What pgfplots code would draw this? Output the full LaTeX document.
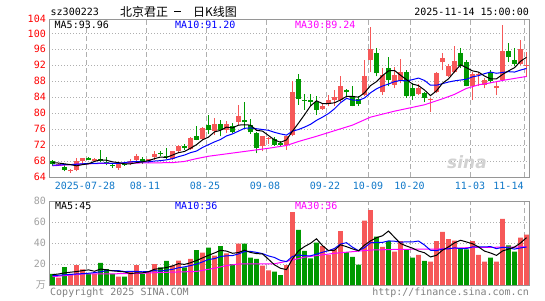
\documentclass[border=0pt]{standalone}
\usepackage{fontspec}
\setmainfont{DejaVu Sans Mono}
\newfontfamily\cjk{Noto Sans CJK SC}
\newfontfamily\sans{DejaVu Sans}
\usepackage{pgfplots}
\usepackage{pgfplotstable}
\pgfplotsset{compat=1.18}
\definecolor{upc}{RGB}{246,88,88}
\definecolor{dnc}{RGB}{0,153,0}
\definecolor{datec}{RGB}{16,120,200}
\definecolor{gridc}{RGB}{175,175,175}
\definecolor{framec}{RGB}{150,150,150}
\definecolor{volc}{RGB}{160,160,160}
\definecolor{maz}{RGB}{255,0,255}
\definecolor{mab}{RGB}{0,0,255}

\pgfplotstableread{
x o h l c v
1 67.0 67.5 66.8 67.3 7
3 65.4 66.0 65.1 65.8 10.5
4 65.7 68.7 65.4 67.9 19
5 67.9 68.8 67.3 68.7 14.9
7 68.1 68.7 67.9 68.6 10.5
11 66.3 67.6 65.8 67.3 7.9
13 67.5 68.4 66.9 67.9 12.7
14 68.3 69.8 68.0 69.2 19
16 67.9 68.6 67.5 68.5 12.7
17 69.0 70.4 68.3 69.8 20
20 68.5 70.6 68.3 70.4 18.4
21 70.4 72.0 70.2 71.8 23.2
23 71.0 74.0 70.8 73.8 24.8
25 73.5 76.5 73.2 76.2 30.8
27 75.5 78.7 74.6 77.3 28
29 75.8 78.0 75.0 77.3 30.2
31 77.9 82.1 77.0 79.2 39.3
35 71.7 74.3 70.5 74.2 18.4
36 73.4 74.0 72.3 73.7 13.9
39 72.1 74.4 70.8 74.3 19
40 74.6 88.0 74.2 85.2 69.5
45 81.0 82.5 80.8 81.8 37.1
46 82.5 84.6 81.7 83.3 28.6
47 83.2 85.8 81.8 84.0 34
48 83.3 89.2 82.9 86.8 51.4
52 84.6 93.2 84.2 89.2 61.3
53 93.2 101.5 90.4 96.1 71.4
55 85.2 91.2 84.6 89.6 36.2
57 87.1 91.6 86.3 89.6 31.7
58 88.0 93.5 87.5 90.3 41.9
61 84.8 87.3 84.5 86.2 28.6
63 83.3 83.7 80.4 83.6 22.2
64 85.2 90.4 85.0 90.0 41.9
65 92.7 95.0 90.8 93.8 50.5
66 89.3 92.2 89.0 91.7 43.8
67 90.2 96.8 90.0 93.1 42.2
70 86.8 90.4 83.3 89.8 41.9
71 89.6 90.2 86.8 89.8 28.6
72 87.1 88.7 86.2 88.3 22.2
74 86.2 87.9 84.5 86.8 22.2
75 88.3 102.1 88.1 95.7 63
78 92.3 98.3 92.1 96.0 45.1
79 91.8 95.3 89.1 92.1 48
}\tabUp

\pgfplotstableread{
x o h l c v
0 67.9 68.3 66.7 67.2 10.5
2 66.6 67.0 65.4 65.7 17.1
6 68.7 69.0 68.2 68.3 10.5
8 68.5 70.7 67.7 67.9 21
9 67.8 69.0 66.9 67.5 15.2
10 67.1 67.5 66.3 66.7 10.5
12 67.3 67.6 66.8 67.0 7.9
15 68.6 68.9 67.3 67.7 10.5
18 70.0 70.4 69.2 69.7 16.8
19 69.3 71.2 68.5 68.9 22.9
22 71.8 72.3 70.8 71.2 16.8
24 74.2 76.8 73.2 73.3 33.3
26 77.1 79.6 74.8 75.7 35.6
28 77.3 78.3 74.2 75.8 37.1
30 76.8 77.6 75.0 75.4 20
32 78.2 82.8 76.2 77.7 39.3
33 77.1 78.6 74.8 75.2 26
34 75.0 75.4 70.0 71.2 24.8
37 73.5 74.0 71.8 72.1 12.7
38 72.6 73.0 71.6 72.1 9.5
41 88.5 89.7 82.1 83.6 52.4
42 83.2 84.8 80.8 83.0 32.4
43 83.3 84.8 81.7 82.9 25.4
44 82.7 84.2 79.6 80.8 40.3
49 85.7 86.0 84.2 85.2 31.4
50 84.0 86.7 81.7 81.8 26.7
51 83.6 84.3 81.8 82.3 19.4
54 95.0 96.3 89.2 90.0 46
56 91.4 94.2 86.7 88.2 41.9
59 90.2 90.8 83.9 84.3 34
60 86.2 87.5 83.3 84.3 26
62 85.0 85.4 82.7 83.8 22.9
68 95.2 96.3 91.2 91.8 34.6
69 92.9 93.3 86.7 86.8 34
73 90.2 90.8 87.5 88.1 26
76 95.6 97.5 92.9 94.0 37.8
77 93.3 96.3 91.7 92.3 31.7
}\tabDn

\pgfplotsset{
  kpanel/.style={
    scale only axis, width=480pt,
    xmin=-0.583, xmax=79.417,
    axis line style={framec, line width=0.8pt},
    major tick length=0pt,
    xtick={5.58,15.58,25.58,35.58,45.58,52.58,59.58,69.58,78.58},
    xticklabels={,,,,,,,,},
    xmajorgrids, ymajorgrids,
    x grid style={gridc, line width=0.8pt, dash pattern=on 5pt off 3pt},
    y grid style={gridc, line width=0.8pt, dash pattern=on 1pt off 2pt},
    /pgf/number format/assume math mode=true,
    tick label style={font=\fontsize{10}{10}\selectfont},
    yticklabel style={anchor=east, inner sep=0pt, xshift=-3pt},
    ytick pos=left, xtick pos=bottom,
    clip=true,
  },
  wick/.style={forget plot, only marks, mark=*, mark size=0pt,
    mark options={draw=none, fill=none},
    error bars/.cd, y dir=plus, y explicit, error mark=none,
    error bar style={draw=#1, line width=1pt}},
  body/.style={forget plot, only marks, mark=*, mark size=0pt,
    mark options={draw=none, fill=none},
    error bars/.cd, y dir=plus, y explicit, error mark=none,
    error bar style={draw=#1, line width=4.6pt}},
}

\begin{document}
\begin{tikzpicture}
\path[use as bounding box] (0pt,0pt) rectangle (545pt,300pt);

% ---------------- price panel ----------------
\begin{axis}[kpanel, at={(49pt,123pt)}, anchor=south west, height=158pt,
  ymin=64, ymax=103.6,
  ytick={64,68,72,76,80,84,88,92,96,100,103.6},
  yticklabels={64,68,72,76,80,84,88,92,96,100,104},
  yticklabel style={red}]
\addplot[wick=upc] table[x=x, y=l, y error plus expr=\thisrow{h}-\thisrow{l}] {\tabUp};
\addplot[wick=dnc] table[x=x, y=l, y error plus expr=\thisrow{h}-\thisrow{l}] {\tabDn};
\addplot[body=upc] table[x=x, y=o, y error plus expr=\thisrow{c}-\thisrow{o}] {\tabUp};
\addplot[body=dnc] table[x=x, y=c, y error plus expr=\thisrow{o}-\thisrow{c}] {\tabDn};
% MA30
\addplot[maz, line width=1pt] coordinates {(0,66.8)(4,67.2)(8,67.4)(14,67.5)(20,67.6)(22,67.9)(24,68.6)(26,69.2)(30,70.0)(36,71.2)(39,71.9)(41,72.9)(44,74.2)(47,75.6)(50,77.0)(53,79.0)(57,80.5)(62,82.1)(65,83.6)(67,84.7)(69,86.2)(71,87.1)(73,87.6)(75,88.2)(79,89.2)};
% MA10
\addplot[mab, line width=1pt] coordinates {(0,67.0)(1,67.0)(2,67.1)(3,67.1)(4,67.2)(5,67.3)(6,67.4)(7,67.4)(8,67.5)(9,67.5)(10,67.4)(11,67.4)(12,67.6)(13,67.8)(14,67.9)(15,67.8)(16,67.8)(17,68.0)(18,68.1)(19,68.3)(20,68.6)(21,69.1)(22,69.5)(23,70.1)(24,70.5)(25,71.4)(26,72.1)(27,72.8)(28,73.4)(29,74.3)(30,74.8)(31,75.5)(32,76.2)(33,76.3)(34,76.1)(35,75.9)(36,75.7)(37,75.2)(38,74.8)(39,74.5)(40,75.5)(41,75.9)(42,76.5)(43,77.2)(44,78.2)(45,79.0)(46,79.9)(47,81.1)(48,82.6)(49,83.7)(50,83.3)(51,83.2)(52,83.8)(53,85.1)(54,86.1)(55,86.8)(56,87.3)(57,87.9)(58,88.2)(59,88.1)(60,88.4)(61,88.8)(62,88.2)(63,87.0)(64,87.0)(65,87.4)(66,87.8)(67,88.1)(68,88.3)(69,88.5)(70,89.1)(71,89.4)(72,89.9)(73,90.3)(74,90.0)(75,90.2)(76,90.4)(77,90.3)(78,90.8)(79,91.2)};
% MA5
\addplot[black, line width=1pt] coordinates {(0,67.6)(1,67.5)(2,67.3)(3,67.1)(4,66.8)(5,67.1)(6,67.3)(7,67.9)(8,68.3)(9,68.2)(10,67.8)(11,67.6)(12,67.3)(13,67.3)(14,67.6)(15,67.8)(16,68.1)(17,68.6)(18,69.0)(19,68.9)(20,69.5)(21,70.1)(22,70.4)(23,71.2)(24,72.1)(25,73.3)(26,74.0)(27,75.3)(28,75.7)(29,76.5)(30,76.3)(31,77.0)(32,77.1)(33,77.0)(34,75.7)(35,75.5)(36,74.4)(37,73.3)(38,72.7)(39,73.3)(40,75.5)(41,77.5)(42,79.6)(43,81.8)(44,83.1)(45,82.4)(46,82.4)(47,82.6)(48,83.3)(49,84.2)(50,84.2)(51,84.0)(52,85.1)(53,86.9)(54,87.9)(55,89.4)(56,90.6)(57,90.7)(58,89.5)(59,88.4)(60,87.3)(61,86.9)(62,85.8)(63,84.4)(64,85.6)(65,87.5)(66,88.6)(67,90.4)(68,92.1)(69,91.4)(70,90.6)(71,90.3)(72,89.3)(73,88.6)(74,88.6)(75,89.7)(76,90.6)(77,91.4)(78,93.0)(79,94.0)};
\end{axis}

% ---------------- volume panel ----------------
\begin{axis}[kpanel, at={(49pt,15pt)}, anchor=south west, height=84pt,
  ymin=0, ymax=80,
  ytick={0,20,40,60,80},
  yticklabels={{\cjk 万},20,40,60,80},
  yticklabel style={volc}]
\addplot[ybar, bar width=4.6pt, bar shift=0pt, fill=upc, draw=none, forget plot] table[x=x, y=v] {\tabUp};
\addplot[ybar, bar width=4.6pt, bar shift=0pt, fill=dnc, draw=none, forget plot] table[x=x, y=v] {\tabDn};
% MA30
\addplot[maz, line width=1pt] coordinates {(0,7.9)(5,10.5)(13,10.8)(19,12.1)(24,12.9)(27,16.0)(29,18.5)(31,20.0)(37,20.2)(39,22.5)(42,26.5)(47,30.2)(53,33.3)(58,34.0)(64,34.2)(70,35.8)(75,36.0)(79,36.3)};
% MA10
\addplot[mab, line width=1pt] coordinates {(0,8.9)(1,9.3)(2,9.7)(3,10.1)(4,10.5)(5,10.8)(6,11.2)(7,11.8)(8,12.6)(9,13.6)(10,13.6)(11,13.7)(12,12.8)(13,13.0)(14,13.0)(15,12.6)(16,12.8)(17,13.7)(18,13.3)(19,14.1)(20,14.9)(21,16.4)(22,17.3)(23,18.5)(24,19.9)(25,22.0)(26,24.3)(27,25.1)(28,27.1)(29,27.8)(30,28.0)(31,29.6)(32,31.8)(33,32.0)(34,31.1)(35,29.9)(36,27.7)(37,26.2)(38,23.4)(39,22.3)(40,27.2)(41,28.6)(42,27.9)(43,27.8)(44,29.4)(45,31.2)(46,32.7)(47,34.8)(48,39.0)(49,40.3)(50,36.0)(51,32.7)(52,35.6)(53,40.2)(54,40.7)(55,40.6)(56,42.0)(57,41.7)(58,40.8)(59,41.1)(60,41.0)(61,41.9)(62,38.1)(63,33.1)(64,32.7)(65,34.2)(66,34.4)(67,35.4)(68,34.7)(69,34.7)(70,36.3)(71,36.3)(72,36.2)(73,36.6)(74,34.6)(75,35.9)(76,35.3)(77,34.2)(78,35.3)(79,36.2)};
% MA5
\addplot[black, line width=1pt] coordinates {(0,9.8)(1,10.5)(2,11.5)(3,12.2)(4,12.8)(5,13.7)(6,14.4)(7,13.1)(8,15.2)(9,14.4)(10,13.5)(11,13.0)(12,12.5)(13,10.8)(14,11.6)(15,11.6)(16,12.6)(17,15.0)(18,15.8)(19,16.6)(20,18.2)(21,20.3)(22,19.6)(23,21.2)(24,23.3)(25,25.8)(26,28.3)(27,30.5)(28,33.0)(29,32.3)(30,30.2)(31,30.9)(32,33.2)(33,31.0)(34,29.9)(35,29.6)(36,24.5)(37,19.2)(38,15.9)(39,14.7)(40,24.9)(41,32.6)(42,36.6)(43,39.7)(44,44.0)(45,37.5)(46,32.8)(47,33.1)(48,38.3)(49,36.5)(50,34.4)(51,32.6)(52,38.0)(53,42.0)(54,45.0)(55,46.9)(56,51.4)(57,45.4)(58,39.5)(59,37.1)(60,35.1)(61,32.4)(62,30.7)(63,26.7)(64,28.3)(65,33.2)(66,36.3)(67,40.1)(68,42.6)(69,41.0)(70,39.3)(71,36.3)(72,32.3)(73,30.5)(74,28.2)(75,32.4)(76,34.2)(77,36.1)(78,40.0)(79,45.1)};
\end{axis}

% ---------------- texts ----------------
\tikzset{lab/.style={inner sep=0pt, font=\fontsize{10}{10}\selectfont}}
\node[lab, anchor=west] at (50.5pt,288.5pt) {sz300223};
\node[inner sep=0pt, anchor=west, font=\cjk\fontsize{12}{12}\selectfont] at (120pt,288.5pt) {北京君正\hspace{6pt}\rule[4pt]{7pt}{0.9pt}\hspace{12pt}日K线图};
\node[lab, anchor=east] at (529pt,288.5pt) {2025-11-14 15:00:00};

\node[lab, anchor=west] at (54.5pt,275pt) {MA5:93.96};
\node[lab, anchor=west, text=mab] at (175pt,275pt) {MA10:91.20};
\node[lab, anchor=west, text=maz] at (295pt,275pt) {MA30:89.24};

\node[lab, anchor=west] at (55pt,94pt) {MA5:45};
\node[lab, anchor=west, text=mab] at (175pt,94pt) {MA10:36};
\node[lab, anchor=west, text=maz] at (295pt,94pt) {MA30:36};

\foreach \xx/\tt in {85/2025-07-28, 145/08-11, 205/08-25, 265/09-08, 325/09-22, 368/10-09, 409.5/10-20, 470/11-03, 508.5/11-14}
  \node[lab, text=datec] at (\xx pt,114pt) {\tt};

\node[inner sep=0pt, text=gray!35, font=\sans\bfseries\itshape\fontsize{17}{17}\selectfont] at (467pt,138pt) {sina};

\node[lab, anchor=west, text=gray] at (50pt,7.3pt) {Copyright 2025 SINA.COM};
\node[lab, anchor=east, text=gray] at (529pt,7.3pt) {http://finance.sina.com.cn};
\end{tikzpicture}
\end{document}
